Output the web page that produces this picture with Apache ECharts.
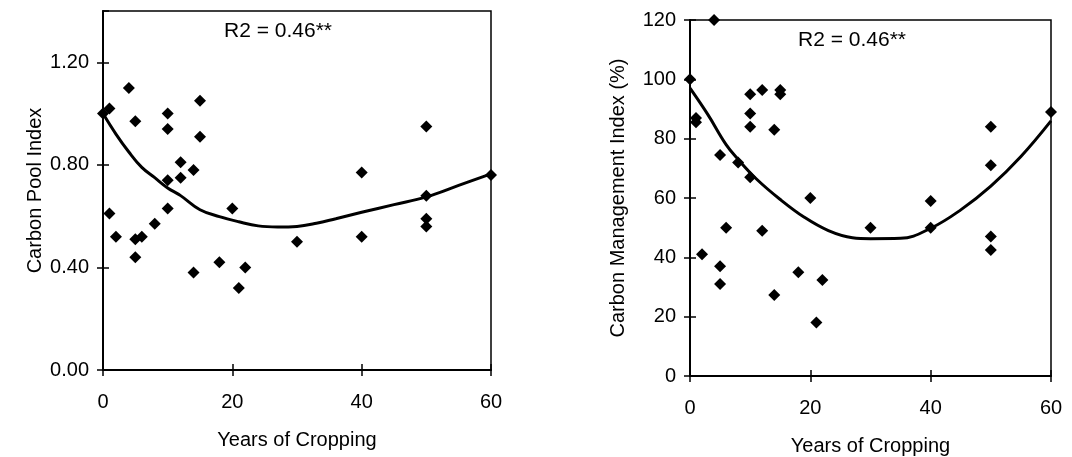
<!DOCTYPE html>
<html>
<head>
<meta charset="utf-8">
<script src="https://cdn.jsdelivr.net/npm/echarts@6/dist/echarts.min.js"></script>
<style>
html,body{margin:0;padding:0;background:#fff;}
#chart{width:1072px;height:457px;}
</style>
</head>
<body>
<div id="chart"></div>
<script>
// ---- Data ----
const xTicks = [0, 20, 40, 60];

// Left panel: Carbon Pool Index vs Years of Cropping
const cpiPoints = [
  [0, 1.00], [1, 1.02], [4, 1.10], [5, 0.97], [10, 1.00], [10, 0.94],
  [15, 1.05], [15, 0.91], [12, 0.81], [14, 0.78], [10, 0.74], [12, 0.75],
  [1, 0.61], [10, 0.63], [20, 0.63], [8, 0.57], [2, 0.52], [5, 0.51],
  [6, 0.52], [5, 0.44], [30, 0.50], [18, 0.42], [14, 0.38], [22, 0.40],
  [21, 0.32], [50, 0.95], [40, 0.77], [50, 0.68], [50, 0.59], [50, 0.56],
  [40, 0.52], [60, 0.76]
];
const cpiTrend = [
  [0, 1.00], [2, 0.92], [4, 0.85], [6, 0.79], [8, 0.75], [10, 0.71],
  [12, 0.68], [15, 0.625], [18, 0.598], [21, 0.578], [24, 0.562],
  [27, 0.558], [30, 0.560], [33, 0.572], [36, 0.590], [40, 0.615],
  [45, 0.645], [50, 0.675], [55, 0.72], [60, 0.765]
];

// Right panel: Carbon Management Index (%) vs Years of Cropping
const cmiPoints = [
  [4, 120], [0, 100], [1, 87], [1, 85.5], [10, 95], [12, 96.4], [15, 96.4],
  [15, 95], [10, 88.5], [10, 84], [14, 83], [5, 74.5], [8, 72], [10, 67],
  [20, 60], [6, 50], [12, 49], [30, 50], [2, 41], [5, 37], [5, 31],
  [18, 35], [22, 32.4], [14, 27.3], [21, 18], [60, 89], [50, 84], [50, 71],
  [40, 59], [40, 50], [50, 47], [50, 42.5]
];
const cmiTrend = [
  [0, 97], [3, 88], [6, 78], [8, 73], [11, 66.5], [15, 59.5], [19, 53.5],
  [23, 49], [27, 46.6], [30, 46.3], [35, 46.4], [40, 49.8], [45, 56],
  [50, 64], [55, 74], [60, 86]
];

const r2Text = 'R2 = 0.46**';
const xName = 'Years of Cropping';
const yNameLeft = 'Carbon Pool Index';
const yNameRight = 'Carbon Management Index (%)';

// ---- Chart ----
const FONT = '"Liberation Sans", Arial, Helvetica, sans-serif';
const chart = echarts.init(document.getElementById('chart'), null, {renderer: 'canvas'});

function xAxisMain(gi) {
  return {
    type: 'value', gridIndex: gi, position: 'bottom', min: 0, max: 60, interval: 20,
    name: xName, nameLocation: 'middle', nameGap: 60,
    nameTextStyle: {color: '#000', fontSize: 20, fontFamily: FONT},
    axisLine: {show: true, onZero: false, lineStyle: {color: '#000', width: 2}},
    axisTick: {show: true, inside: false, length: 6, lineStyle: {color: '#000', width: 1.5}},
    axisLabel: {color: '#000', fontSize: 20, fontFamily: FONT, margin: 22},
    splitLine: {show: false}
  };
}
function xAxisInner(gi) {
  return {
    type: 'value', gridIndex: gi, position: 'bottom', min: 0, max: 60, interval: 20,
    axisLine: {show: false, onZero: false},
    axisTick: {show: true, inside: true, length: 6, lineStyle: {color: '#000', width: 1.5}},
    axisLabel: {show: false}, splitLine: {show: false}
  };
}
function yAxisMain(gi, min, max, interval, name, gap, fmt) {
  return {
    type: 'value', gridIndex: gi, position: 'left', min: min, max: max, interval: interval,
    name: name, nameLocation: 'middle', nameGap: gap,
    nameTextStyle: {color: '#000', fontSize: 20, fontFamily: FONT},
    axisLine: {show: true, onZero: false, lineStyle: {color: '#000', width: 2}},
    axisTick: {show: true, inside: false, length: 6, lineStyle: {color: '#000', width: 1.5}},
    axisLabel: {color: '#000', fontSize: 20, fontFamily: FONT, margin: 14, formatter: fmt, showMaxLabel: true},
    splitLine: {show: false}
  };
}
function yAxisInner(gi, min, max, interval) {
  return {
    type: 'value', gridIndex: gi, position: 'left', min: min, max: max, interval: interval,
    axisLine: {show: false, onZero: false},
    axisTick: {show: true, inside: true, length: 6, lineStyle: {color: '#000', width: 1.5}},
    axisLabel: {show: false}, splitLine: {show: false}
  };
}

const yLeft = yAxisMain(0, 0, 1.4, 0.4, yNameLeft, 58, v => v.toFixed(2));
yLeft.axisLabel.showMaxLabel = false;

const option = {
  animation: false,
  backgroundColor: '#fff',
  grid: [
    {left: 103, top: 11, width: 388, height: 359, show: true, borderColor: '#000', borderWidth: 1.5,
     backgroundColor: 'transparent', outerBoundsMode: 'none', containLabel: false},
    {left: 690, top: 20, width: 361, height: 356, show: true, borderColor: '#000', borderWidth: 1.5,
     backgroundColor: 'transparent', outerBoundsMode: 'none', containLabel: false}
  ],
  xAxis: [xAxisMain(0), xAxisMain(1), xAxisInner(0), xAxisInner(1)],
  yAxis: [
    yLeft,
    yAxisMain(1, 0, 120, 20, yNameRight, 62, v => String(v)),
    yAxisInner(0, 0, 1.4, 0.4),
    yAxisInner(1, 0, 120, 20)
  ],
  series: [
    {type: 'line', xAxisIndex: 0, yAxisIndex: 0, data: cpiTrend, smooth: 0.4, symbol: 'none',
     lineStyle: {color: '#000', width: 3}, z: 2},
    {type: 'scatter', xAxisIndex: 0, yAxisIndex: 0, data: cpiPoints, symbol: 'diamond', symbolSize: 12,
     itemStyle: {color: '#000', opacity: 1}, z: 3},
    {type: 'line', xAxisIndex: 1, yAxisIndex: 1, data: cmiTrend, smooth: 0.4, symbol: 'none',
     lineStyle: {color: '#000', width: 3}, z: 2},
    {type: 'scatter', xAxisIndex: 1, yAxisIndex: 1, data: cmiPoints, symbol: 'diamond', symbolSize: 12,
     itemStyle: {color: '#000', opacity: 1}, z: 3}
  ],
  graphic: [
    {type: 'text', left: 224, top: 21, style: {text: r2Text, fill: '#000', font: '21px ' + FONT}},
    {type: 'text', left: 798, top: 30, style: {text: r2Text, fill: '#000', font: '21px ' + FONT}}
  ]
};
chart.setOption(option);
</script>
</body>
</html>
